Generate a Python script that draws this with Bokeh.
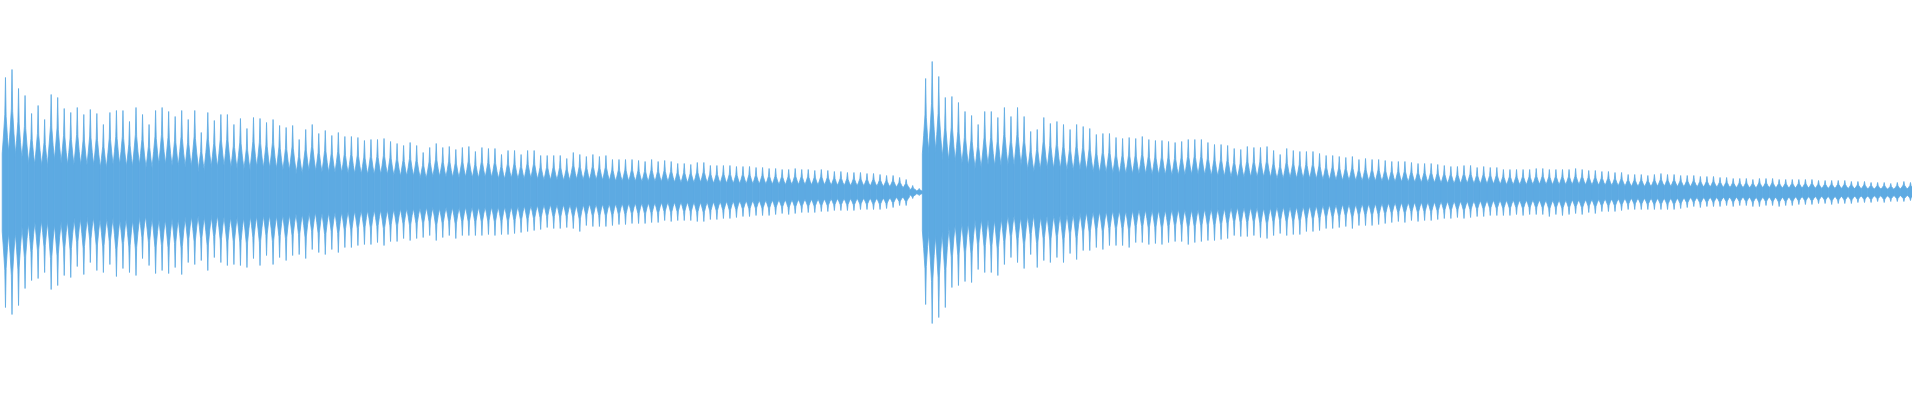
import numpy as np
from bokeh.plotting import figure
from bokeh.models import Range1d, ColumnDataSource
from bokeh.embed import file_html
from bokeh.resources import INLINE

# ---- data (peak amplitude of every cycle, px-scale units; full scale = 192)
note1_start = 5.0          # position of first cycle peak (time axis in display columns)
note1_period = 6.554       # cycle length
note1_top = [115, 123, 104, 97, 79, 87, 73, 98, 95, 84,
             80, 85, 78, 83, 79, 68, 80, 82, 82, 71, 85, 78, 68, 82, 85,
             81, 76, 82, 73, 82, 60, 80, 72, 78, 78, 68, 74, 64, 75, 74,
             70, 73, 67, 65, 67, 53, 63, 68, 59,
             62, 57, 60, 56, 56, 55, 52, 53, 53, 54, 51, 49, 47, 50, 47,
             40, 45, 49, 45, 46, 43, 45, 46, 41, 45, 44, 44, 38, 42, 42,
             38, 42, 42, 37, 37, 37, 37, 34, 40, 38, 36, 38, 36, 37, 33, 33,
             33, 33, 32, 31, 33, 31, 32, 31, 29, 29, 28, 30, 30, 27, 27,
             27, 27, 26, 26, 26, 25, 25, 24, 24, 23, 23, 24, 23, 23, 22,
             23, 22, 21, 21, 20, 20, 20, 19, 19, 18, 17, 17, 15, 13, 7,
             4]
note1_bottom = [115, 122, 113, 96, 88, 86, 80, 97, 93, 83,
                85, 74, 82, 70, 78, 80, 72, 84, 76, 80, 83, 66, 73, 81, 78,
                81, 75, 82, 70, 72, 68, 78, 65, 70, 73, 72, 73, 75, 66, 73,
                63, 72, 65, 68, 63, 62, 66, 57, 60,
                62, 57, 60, 55, 55, 53, 52, 52, 50, 53, 49, 49, 46, 48, 46,
                45, 43, 48, 45, 43, 46, 43, 43, 43, 43, 42, 43, 42, 42, 41,
                40, 39, 38, 37, 35, 36, 36, 35, 36, 39, 33, 34, 34, 34, 33, 32,
                32, 31, 31, 31, 30, 30, 28, 29, 28, 28, 28, 29, 29, 27, 27,
                26, 26, 25, 24, 24, 23, 23, 23, 22, 21, 22, 21, 20, 20, 20,
                19, 19, 18, 18, 18, 18, 17, 17, 17, 17, 16, 15, 13, 13, 6,
                3]

note2_start = 929.0
note2_period = 6.593
note2_top = [114, 131, 116, 95, 96, 90, 81, 77, 68, 81, 81, 75, 85, 76, 85,
             76, 61, 63, 75, 69, 71, 68, 63, 68, 66, 64, 58, 59, 59, 55,
             54, 55, 54, 56, 53, 52, 52, 51, 50, 51, 53, 53, 53, 50, 48,
             48, 47, 44, 43, 46, 45, 45, 46, 42, 38, 44, 42, 41, 41, 41,
             39, 37, 37, 36, 35, 36, 33, 34, 33, 33, 32, 31, 31, 31, 30,
             29, 29, 29, 28, 27, 26, 26, 27, 27, 25, 26, 25, 25, 23, 23,
             23, 23, 23, 24, 24, 23, 23, 23, 23, 24, 23, 22, 22,
             21, 21, 20, 20, 18, 18, 18, 17, 18, 19, 18, 18, 17, 17, 17,
             16, 16, 16, 15, 15, 14, 14, 14, 13, 14, 14, 14, 13, 13, 13,
             13, 13, 13, 12, 12, 12, 12, 12, 11, 11, 11, 10, 10, 10, 9,
             10, 11, 10]
note2_bottom = [112, 131, 125, 115, 95, 93, 89, 90, 77, 80, 80, 83, 72, 65, 70,
                76, 62, 75, 68, 70, 65, 70, 61, 67, 58, 58, 55, 57, 53, 53,
                53, 55, 50, 50, 52, 51, 52, 50, 49, 49, 52, 50, 49, 48, 48,
                47, 46, 43, 44, 44, 43, 45, 46, 43, 41, 43, 42, 42, 39, 39,
                38, 36, 36, 35, 34, 36, 33, 33, 33, 32, 31, 30, 29, 30, 28,
                29, 28, 28, 27, 26, 26, 25, 26, 25, 24, 24, 23, 23, 23, 23,
                22, 23, 22, 22, 22, 24, 22, 23, 22, 21, 22, 20, 21,
                19, 19, 19, 18, 17, 17, 17, 17, 17, 17, 17, 17, 16, 15, 14,
                15, 14, 14, 14, 13, 14, 13, 13, 14, 14, 13, 13, 14, 13, 13,
                12, 12, 12, 11, 11, 12, 11, 11, 11, 10, 10, 10, 9, 10, 9,
                9, 9, 8]

# relative outline of one cycle
cycle_offsets = [-0.5, -0.3, -0.1, 0.0, 0.1, 0.3, 0.5]
cycle_shape = [0.34, 0.5, 0.68, 1.0, 0.66, 0.48, 0.34]

WAVE_COLOR = "#5DAAE2"

xs, ys = [], []
for start, period, tops, bots in ((note1_start, note1_period, note1_top, note1_bottom),
                                  (note2_start, note2_period, note2_top, note2_bottom)):
    for k, (t, b) in enumerate(zip(tops, bots)):
        c = start + k * period
        px = [c + o * period for o in cycle_offsets]
        top = [t * s for s in cycle_shape]
        bot = [-b * s for s in cycle_shape]
        xs.append(px + px[::-1])
        ys.append(top + bot[::-1])

src = ColumnDataSource(dict(xs=xs, ys=ys))

p = figure(width=1912, height=384, output_backend="svg", toolbar_location=None,
           x_range=Range1d(0, 1920), y_range=Range1d(-192, 192),
           x_axis_location=None, y_axis_location=None, min_border=0)
p.grid.visible = False
p.outline_line_color = None
p.background_fill_color = "white"
p.border_fill_color = "white"

p.patches("xs", "ys", source=src, fill_color=WAVE_COLOR, line_color=WAVE_COLOR,
          line_width=0.8)

open("out.html", "w").write(file_html(p, INLINE))
